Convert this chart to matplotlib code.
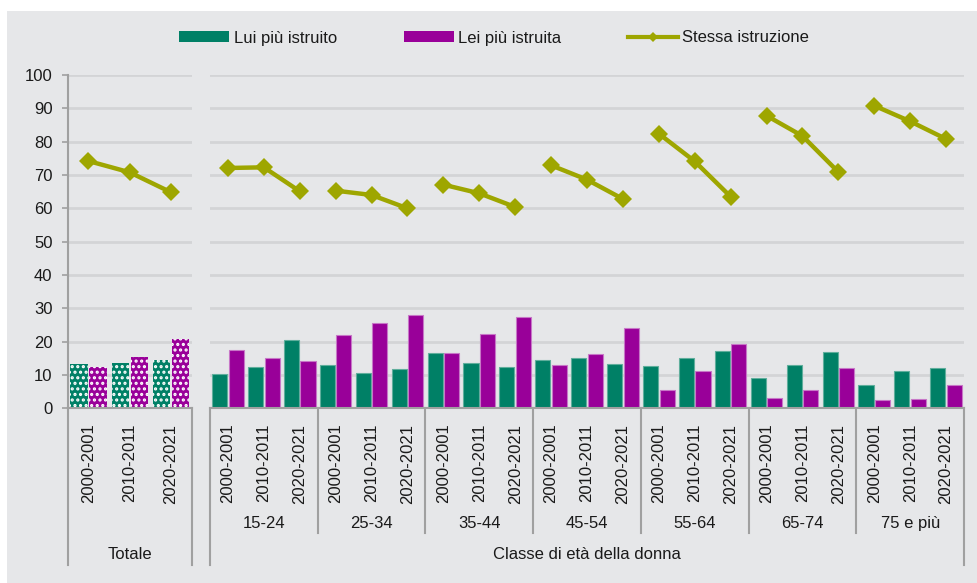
import matplotlib
matplotlib.use("Agg")
import matplotlib.pyplot as plt
from matplotlib.patches import Rectangle, Patch
from matplotlib.lines import Line2D
import numpy as np

plt.rcParams['font.family'] = ['Liberation Sans', 'DejaVu Sans']
plt.rcParams['hatch.linewidth'] = 1.5

# data
years = ['2000-2001', '2010-2011', '2020-2021']
age_groups = ['15-24', '25-34', '35-44', '45-54', '55-64', '65-74', '75 e più']

tot_lui = [13.3, 13.6, 14.5]
tot_lei = [12.4, 15.4, 20.8]
tot_stessa = [74.2, 70.8, 64.8]

lui = [10.4, 12.4, 20.5,
       13.0, 10.7, 11.8,
       16.5, 13.5, 12.3,
       14.4, 15.2, 13.3,
       12.6, 15.0, 17.2,
       9.2, 12.9, 16.9,
       6.9, 11.1, 12.2]
lei = [17.6, 15.2, 14.2,
       22.0, 25.5, 28.1,
       16.5, 22.2, 27.3,
       12.9, 16.3, 24.0,
       5.4, 11.1, 19.3,
       3.1, 5.5, 12.1,
       2.6, 2.8, 6.9]
stessa = [72.1, 72.3, 65.1,
          65.3, 64.0, 60.0,
          67.1, 64.5, 60.4,
          72.9, 68.6, 62.8,
          82.4, 74.1, 63.5,
          87.8, 81.7, 70.9,
          90.8, 86.1, 80.8]

GREEN = '#008066'
PURPLE = '#990099'
OLIVE = '#9ea600'
BG = '#e6e7e9'
GRID = '#d3d4d6'
AXC = '#a0a0a0'
TXT = '#1a1a1a'

W, H = 977, 583
fig = plt.figure(figsize=(W / 100, H / 100), dpi=100, facecolor='white')
fig.patches.append(Rectangle((7 / W, 0), 1, (H - 11) / H, transform=fig.transFigure,
                             facecolor=BG, edgecolor='none', zorder=-5))

y0, y100 = 408.3, 75
bottom = (H - y0) / H
height = (y0 - y100) / H
axL = fig.add_axes([67.7 / W, bottom, (191.7 - 67.7) / W, height])
axR = fig.add_axes([210 / W, bottom, (964 - 210) / W, height])

off, bw = 0.23, 0.42

def style(ax, n):
    ax.set_facecolor('none')
    ax.set_xlim(-0.5, n - 0.5)
    ax.set_ylim(0, 100)
    ax.set_yticks(range(0, 101, 10))
    ax.grid(axis='y', color=GRID, lw=2, zorder=0)
    ax.set_axisbelow(True)
    for s in ['top', 'right', 'left']:
        ax.spines[s].set_visible(False)
    ax.spines['bottom'].set_color(AXC)
    ax.spines['bottom'].set_linewidth(1.5)
    ax.tick_params(axis='x', length=0, pad=11, labelsize=12, labelcolor=TXT)

# left panel: Totale
xl = np.arange(3)
axL.bar(xl - off, tot_lui, bw, color=GREEN, hatch='...', edgecolor='white', lw=0, zorder=2)
axL.bar(xl + off, tot_lei, bw, color=PURPLE, hatch='...', edgecolor='white', lw=0, zorder=2)
axL.plot(xl, tot_stessa, color=OLIVE, lw=3.2, marker='D', ms=9, mew=0, zorder=3)
style(axL, 3)
axL.spines['left'].set_visible(True)
axL.spines['left'].set_color(AXC)
axL.spines['left'].set_linewidth(1.5)
axL.tick_params(axis='y', length=4, width=1.2, color=AXC, pad=7, labelsize=12, labelcolor=TXT)
axL.set_xticks(xl)
axL.set_xticklabels(years, rotation=90)

# right panel: age classes
xr = np.arange(len(lui))
axR.bar(xr - off, lui, bw, color=GREEN, edgecolor='#5fae9c', lw=0.8, zorder=2)
axR.bar(xr + off, lei, bw, color=PURPLE, edgecolor='#c777c7', lw=0.8, zorder=2)
for g in range(len(age_groups)):
    idx = slice(3 * g, 3 * g + 3)
    axR.plot(xr[idx], stessa[idx], color=OLIVE, lw=3.2, marker='D', ms=9, mew=0, zorder=3)
style(axR, len(lui))
axR.tick_params(axis='y', left=False, labelleft=False)
axR.set_xticks(xr)
axR.set_xticklabels(years * len(age_groups), rotation=90)

# separators and group labels below the axes
trL = axL.get_xaxis_transform()
trR = axR.get_xaxis_transform()
for x in [-0.5, 2.5]:
    axL.plot([x, x], [0, -0.47], transform=trL, color=AXC, lw=1.5, clip_on=False)
axL.text(1, -0.44, 'Totale', transform=trL, ha='center', va='center', fontsize=12, color=TXT)
for g in range(len(age_groups) + 1):
    x = 3 * g - 0.5
    yb = -0.47 if g in (0, len(age_groups)) else -0.375
    axR.plot([x, x], [0, yb], transform=trR, color=AXC, lw=1.5, clip_on=False)
for g, name in enumerate(age_groups):
    axR.text(3 * g + 1, -0.345, name, transform=trR, ha='center', va='center', fontsize=12, color=TXT)
axR.text(10, -0.44, 'Classe di età della donna', transform=trR, ha='center', va='center',
         fontsize=12, color=TXT)

# legend
handles = [Patch(facecolor=GREEN, edgecolor='none'),
           Patch(facecolor=PURPLE, edgecolor='none'),
           Line2D([], [], color=OLIVE, lw=3, marker='D', ms=5, mew=0)]
fig.legend(handles, ['Lui più istruito', 'Lei più istruita', 'Stessa istruzione'],
           loc='center', bbox_to_anchor=(494 / W, 1 - 38 / H), ncol=3, frameon=False,
           fontsize=12, handlelength=3.0, handleheight=0.6, handletextpad=0.25,
           columnspacing=4.0, labelcolor=TXT)

fig.savefig('out.png', dpi=100, facecolor='white')
